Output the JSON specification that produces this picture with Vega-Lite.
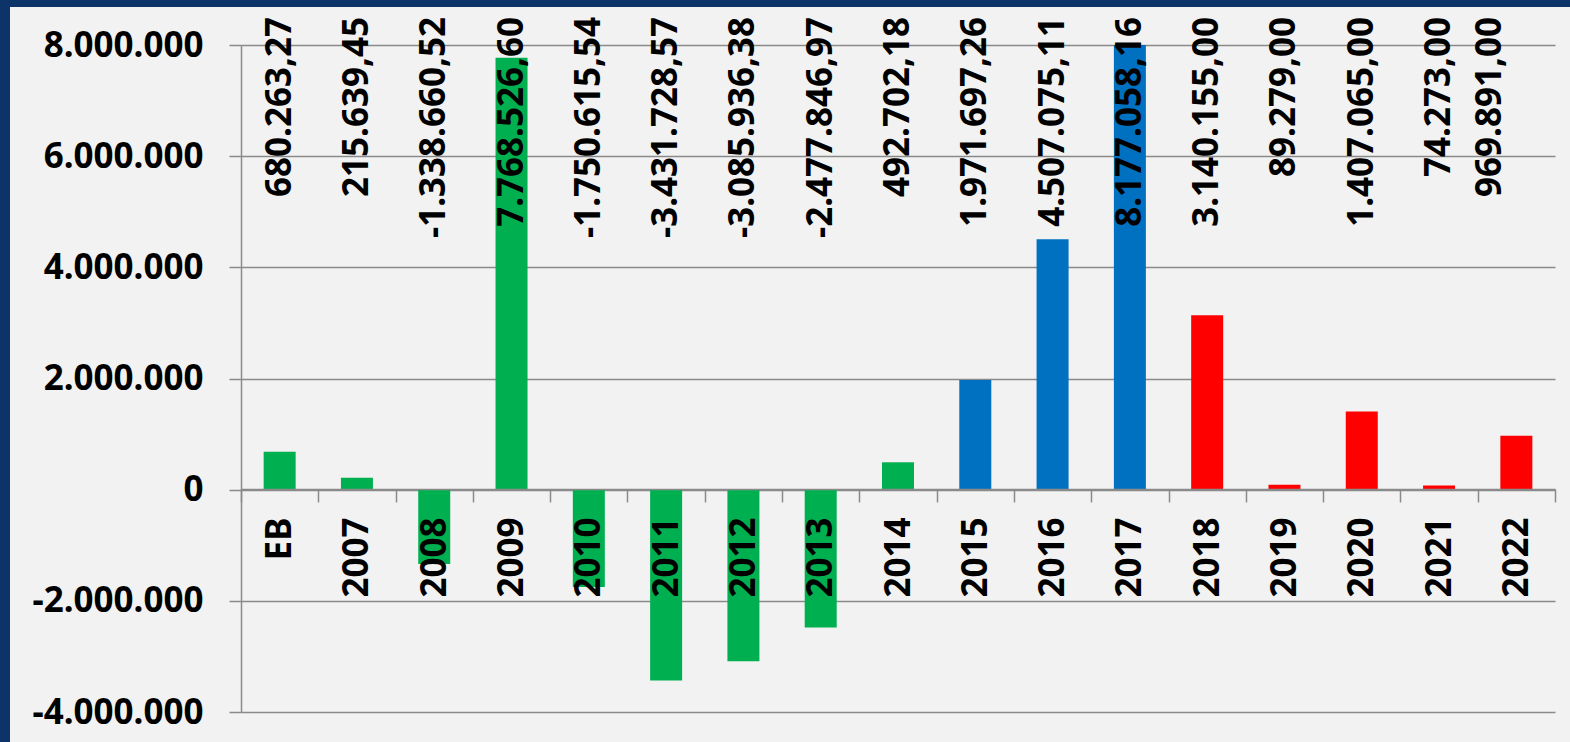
{
  "$schema": "https://vega.github.io/schema/vega-lite/v6.json",
  "width": 1560,
  "height": 735,
  "autosize": {"type": "none"},
  "padding": {"left": 10, "top": 7, "right": 0, "bottom": 0},
  "background": "#0C3468",
  "config": {
    "view": {"fill": "#F2F2F2", "stroke": null},
    "locale": {"number": {"decimal": ",", "thousands": ".", "grouping": [3], "currency": ["", " €"], "minus": "-"}},
    "font": "Noto Sans"
  },
  "data": {
    "values": [
      {"cat": "EB", "value": 680263.27, "grp": "EB-2014"},
      {"cat": "2007", "value": 215639.45, "grp": "EB-2014"},
      {"cat": "2008", "value": -1338660.52, "grp": "EB-2014"},
      {"cat": "2009", "value": 7768526.60, "grp": "EB-2014"},
      {"cat": "2010", "value": -1750615.54, "grp": "EB-2014"},
      {"cat": "2011", "value": -3431728.57, "grp": "EB-2014"},
      {"cat": "2012", "value": -3085936.38, "grp": "EB-2014"},
      {"cat": "2013", "value": -2477846.97, "grp": "EB-2014"},
      {"cat": "2014", "value": 492702.18, "grp": "EB-2014"},
      {"cat": "2015", "value": 1971697.26, "grp": "2015-2017"},
      {"cat": "2016", "value": 4507075.11, "grp": "2015-2017"},
      {"cat": "2017", "value": 8177058.16, "grp": "2015-2017"},
      {"cat": "2018", "value": 3140155.00, "grp": "2018-2022"},
      {"cat": "2019", "value": 89279.00, "grp": "2018-2022"},
      {"cat": "2020", "value": 1407065.00, "grp": "2018-2022"},
      {"cat": "2021", "value": 74273.00, "grp": "2018-2022"},
      {"cat": "2022", "value": 969891.00, "grp": "2018-2022"}
    ]
  },
  "encoding": {
    "x": {
      "field": "cat",
      "type": "nominal",
      "sort": null,
      "scale": {"range": [231, 1545], "paddingInner": 0, "paddingOuter": 0},
      "axis": {
        "title": null,
        "orient": "bottom",
        "offset": -253,
        "labelAngle": -90,
        "labelAlign": "right",
        "labelBaseline": "middle",
        "labelFont": "Noto Sans",
        "labelFontSize": 35,
        "labelFontWeight": "bold",
        "labelColor": "#000000",
        "labelPadding": 15,
        "tickSize": 13,
        "tickBand": "extent",
        "tickColor": "#8A8A8A",
        "tickWidth": 1.5,
        "domainColor": "#8A8A8A",
        "domainWidth": 1.5,
        "grid": false,
        "zindex": 1
      }
    }
  },
  "layer": [
    {
      "mark": {"type": "bar", "width": {"band": 0.414}},
      "encoding": {
        "y": {
          "field": "value",
          "type": "quantitative",
          "scale": {"domain": [-4000000, 8000000], "range": [705, 38], "clamp": true, "nice": false},
          "axis": {
            "title": null,
            "offset": -231,
            "values": [-4000000, -2000000, 0, 2000000, 4000000, 6000000, 8000000],
            "format": ",.0f",
            "labelFont": "Noto Sans",
            "labelFontSize": 35,
            "labelFontWeight": "bold",
            "labelColor": "#000000",
            "labelPadding": 26,
            "tickSize": 12,
            "tickColor": "#8A8A8A",
            "tickWidth": 1.5,
            "domainColor": "#8A8A8A",
            "domainWidth": 1.5,
            "grid": true,
            "gridColor": "#8A8A8A",
            "gridWidth": 1.5
          }
        },
        "y2": {"datum": 0},
        "color": {
          "field": "grp",
          "type": "nominal",
          "scale": {"domain": ["EB-2014", "2015-2017", "2018-2022"], "range": ["#00B050", "#0070C0", "#FF0000"]},
          "legend": null
        }
      }
    },
    {
      "transform": [{"filter": "datum.cat !== '2022'"}],
      "mark": {
        "type": "text",
        "angle": 270,
        "align": "right",
        "baseline": "middle",
        "dx": 28,
        "font": "Noto Sans",
        "fontSize": 35,
        "fontWeight": "bold",
        "color": "#000000"
      },
      "encoding": {
        "y": {
          "datum": 8000000,
          "type": "quantitative",
          "axis": {
            "title": null,
            "offset": -231,
            "values": [-4000000, -2000000, 0, 2000000, 4000000, 6000000, 8000000],
            "format": ",.0f",
            "labelFont": "Noto Sans",
            "labelFontSize": 35,
            "labelFontWeight": "bold",
            "labelColor": "#000000",
            "labelPadding": 26,
            "tickSize": 12,
            "tickColor": "#8A8A8A",
            "tickWidth": 1.5,
            "domainColor": "#8A8A8A",
            "domainWidth": 1.5,
            "grid": true,
            "gridColor": "#8A8A8A",
            "gridWidth": 1.5
          }
        },
        "text": {"field": "value", "type": "quantitative", "format": ",.2f"}
      }
    },
    {
      "transform": [{"filter": "datum.cat === '2022'"}],
      "mark": {
        "type": "text",
        "angle": 270,
        "align": "right",
        "baseline": "middle",
        "dx": 28,
        "dy": -26,
        "font": "Noto Sans",
        "fontSize": 35,
        "fontWeight": "bold",
        "color": "#000000"
      },
      "encoding": {
        "y": {
          "datum": 8000000,
          "type": "quantitative",
          "axis": {
            "title": null,
            "offset": -231,
            "values": [-4000000, -2000000, 0, 2000000, 4000000, 6000000, 8000000],
            "format": ",.0f",
            "labelFont": "Noto Sans",
            "labelFontSize": 35,
            "labelFontWeight": "bold",
            "labelColor": "#000000",
            "labelPadding": 26,
            "tickSize": 12,
            "tickColor": "#8A8A8A",
            "tickWidth": 1.5,
            "domainColor": "#8A8A8A",
            "domainWidth": 1.5,
            "grid": true,
            "gridColor": "#8A8A8A",
            "gridWidth": 1.5
          }
        },
        "text": {"field": "value", "type": "quantitative", "format": ",.2f"}
      }
    }
  ]
}
